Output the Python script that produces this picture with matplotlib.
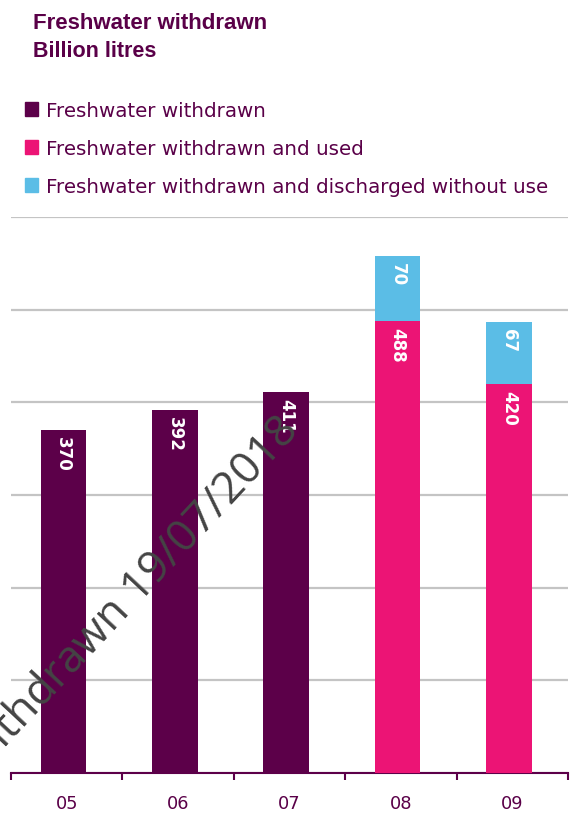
import numpy as np
import matplotlib
matplotlib.use("Agg")
import matplotlib.pyplot as plt
from matplotlib.patches import Rectangle

# ---- data ----
years = ["05", "06", "07", "08", "09"]
withdrawn = [370, 392, 411, np.nan, np.nan]
used = [np.nan, np.nan, np.nan, 488, 420]
discharged = [np.nan, np.nan, np.nan, 70, 67]
legend_labels = ["Freshwater withdrawn",
                 "Freshwater withdrawn and used",
                 "Freshwater withdrawn and discharged without use"]
y_ticks = [0, 100, 200, 300, 400, 500, 600]

PURPLE = "#5c0049"
PINK = "#ec1475"
BLUE = "#5bbde6"
TEXT = "#5a0048"

W, H = 570, 815
fig = plt.figure(figsize=(W / 100, H / 100), dpi=100)

def fx(px):
    return px / W

def fy(py):
    return 1 - py / H

ax = fig.add_axes([fx(11), fy(773), fx(568) - fx(11), fy(217) - fy(773)])
x = np.arange(len(years)) - 0.03
bw = 0.41

b1 = ax.bar(x, withdrawn, bw, color=PURPLE, zorder=3)
b2 = ax.bar(x, used, bw, color=PINK, zorder=3)
b3 = ax.bar(x, discharged, bw, bottom=used, color=BLUE, zorder=3)

def label(bars, values, bottoms=None):
    for i, (rect, v) in enumerate(zip(bars, values)):
        if np.isnan(v):
            continue
        base = 0 if bottoms is None else bottoms[i]
        ax.annotate(f"{int(v)}", xy=(rect.get_x() + rect.get_width() / 2, base + v),
                    xytext=(0, -5), textcoords="offset points",
                    ha="center", va="top", rotation=-90, color="white",
                    fontsize=12, fontweight="bold", family="Liberation Sans Narrow",
                    zorder=5)

label(b1, withdrawn)
label(b2, used)
label(b3, discharged, used)

ax.set_ylim(0, 600)
ax.set_xlim(-0.5, len(years) - 0.5)
ax.set_yticks(y_ticks)
ax.yaxis.grid(True, color="#c4c4c4", linewidth=1.6, zorder=0)
ax.tick_params(axis="y", left=False, labelleft=False)
for s in ["top", "right", "left"]:
    ax.spines[s].set_visible(False)
ax.spines["bottom"].set_color(PURPLE)
ax.spines["bottom"].set_linewidth(1.5)

ax.set_xticks(np.arange(len(years) + 1) - 0.5)
ax.set_xticklabels([])
ax.tick_params(axis="x", which="major", direction="out", length=5, width=1.5, color=PURPLE)
ax.set_xticks(np.arange(len(years)), minor=True)
ax.set_xticklabels(years, minor=True)
ax.tick_params(axis="x", which="minor", length=0, pad=16, labelsize=12.8, labelcolor=TEXT)
for t in ax.get_xticklabels(minor=True):
    t.set_family("DejaVu Sans")

# titles
fig.text(fx(33), fy(29), "Freshwater withdrawn", fontsize=16, fontweight="bold",
         color=TEXT, va="baseline", ha="left", family="Liberation Sans")
fig.text(fx(33), fy(57), "Billion litres", fontsize=15.5, fontweight="bold",
         color=TEXT, va="baseline", ha="left", family="Liberation Sans")

# legend
for yb, lab, col in zip([117, 155, 193], legend_labels, [PURPLE, PINK, BLUE]):
    fig.patches.append(Rectangle((fx(25), fy(yb - 1)), fx(13), fy(0) - fy(14),
                                 transform=fig.transFigure, color=col, figure=fig))
    fig.text(fx(46), fy(yb), lab, fontsize=14.3, color=TEXT, va="baseline", ha="left",
             family="DejaVu Sans")

# watermark
fig.text(fx(300), fy(432), "Withdrawn 19/07/2018", fontsize=32, color="#444444",
         rotation=47, rotation_mode="anchor", ha="right", va="baseline",
         family="Open Sans", zorder=10)

fig.savefig("out.png", dpi=100)
